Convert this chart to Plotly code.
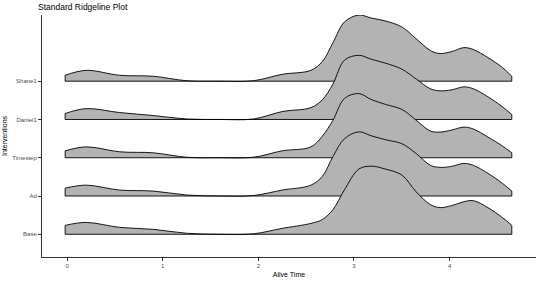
import plotly.graph_objects as go

groups = ["Shane1", "Daniel1", "Timestep", "Ad", "Base"]
positions = [4, 3, 2, 1, 0]

x_grid = [-0.02, 0.2, 0.55, 0.9, 1.25, 1.6, 1.95, 2.25, 2.55, 2.67, 2.78, 2.9, 3.05,
          3.18, 3.33, 3.5, 3.65, 3.8, 3.9, 4.02, 4.15, 4.25, 4.4, 4.55, 4.65]

dens_shane1 = [0.06, 0.11, 0.06, 0.05, 0.005, 0, 0.005, 0.07, 0.11, 0.20, 0.39, 0.60, 0.67,
               0.64, 0.61, 0.55, 0.43, 0.31, 0.28, 0.30, 0.34, 0.32, 0.24, 0.14, 0.05]
dens_daniel1 = [0.06, 0.11, 0.07, 0.04, 0.005, 0, 0.005, 0.08, 0.12, 0.20, 0.36, 0.60, 0.65,
                0.61, 0.57, 0.51, 0.41, 0.31, 0.29, 0.30, 0.33, 0.31, 0.23, 0.13, 0.05]
dens_timestep = [0.07, 0.11, 0.06, 0.05, 0.005, 0, 0.005, 0.07, 0.11, 0.22, 0.38, 0.60, 0.65,
                 0.59, 0.54, 0.49, 0.38, 0.27, 0.26, 0.28, 0.31, 0.29, 0.21, 0.12, 0.05]
dens_ad = [0.08, 0.11, 0.06, 0.05, 0.01, 0, 0.005, 0.06, 0.11, 0.20, 0.40, 0.58, 0.65,
           0.61, 0.57, 0.53, 0.43, 0.31, 0.29, 0.30, 0.33, 0.31, 0.23, 0.13, 0.05]
dens_base = [0.09, 0.12, 0.07, 0.05, 0.01, 0, 0.005, 0.06, 0.11, 0.15, 0.25, 0.45, 0.66,
             0.69, 0.66, 0.60, 0.43, 0.30, 0.27, 0.29, 0.33, 0.34, 0.27, 0.17, 0.09]

densities = [dens_shane1, dens_daniel1, dens_timestep, dens_ad, dens_base]
scale = 2.58

x_ticks = [0, 1, 2, 3, 4]

fig = go.Figure()
for name, pos, dens in zip(groups, positions, densities):
    ys = [pos + d * scale for d in dens]
    x0, x1 = x_grid[0], x_grid[-1]
    fig.add_trace(go.Scatter(
        x=[x0, x0, x1, x1], y=[ys[0], pos, pos, ys[-1]],
        mode="lines", line=dict(color="black", width=0.9),
        hoverinfo="skip", showlegend=False))
    fig.add_trace(go.Scatter(
        x=x_grid, y=ys, mode="lines", name=name,
        line=dict(color="black", width=0.9, shape="spline", smoothing=1),
        fill="tonexty", fillcolor="#b3b3b3", showlegend=False))

fig.update_layout(
    width=540, height=281,
    margin=dict(l=38, r=4, t=15, b=21),
    paper_bgcolor="white", plot_bgcolor="white",
    font=dict(family="Liberation Sans, Arial, sans-serif", color="#4d4d4d"),
    title=dict(text="Standard Ridgeline Plot", x=38/540, xanchor="left",
               y=1 - 7/281, yanchor="middle",
               font=dict(size=8.5, color="black")),
    showlegend=False,
)
fig.update_xaxes(
    range=[-0.262, 4.903], tickvals=x_ticks, ticktext=[str(t) for t in x_ticks],
    showgrid=False, zeroline=False, showline=True, linecolor="#333333", linewidth=1,
    ticks="outside", ticklen=3, tickcolor="#333333", tickwidth=0.8,
    tickfont=dict(size=6, color="#4d4d4d"),
    title=dict(text="Alive Time", font=dict(size=7, color="black"), standoff=3),
)
fig.update_yaxes(
    range=[-0.594, 5.73], tickvals=positions, ticktext=groups,
    showgrid=False, zeroline=False, showline=True, linecolor="#333333", linewidth=1,
    ticks="outside", ticklen=3, tickcolor="#333333", tickwidth=0.8,
    tickfont=dict(size=6, color="#4d4d4d"),
    title=dict(text="Interventions", font=dict(size=7, color="black"), standoff=3),
)

fig.write_html("out.html")
